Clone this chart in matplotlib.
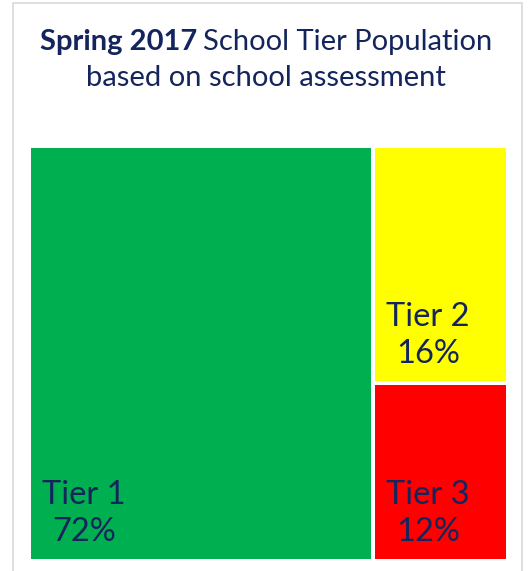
import matplotlib.pyplot as plt
from matplotlib.patches import Rectangle

# data
tiers = ["Tier 1", "Tier 2", "Tier 3"]
shares = [72, 16, 12]
colors = ["#00B050", "#FFFF00", "#FF0000"]

text_color = "#14245C"
font = "Lato"
title_size = 21

fig = plt.figure(figsize=(5.28, 5.71), dpi=100)
ax = fig.add_axes([0, 0, 1, 1])
ax.set_xlim(0, 528)
ax.set_ylim(571, 0)
ax.axis("off")

# light frame around the chart
ax.add_patch(Rectangle((13, 3), 509, 600, facecolor="white",
                       edgecolor="#D9D9D9", linewidth=1.2))

# title: bold part + normal part on one line, centered together
t1 = ax.text(0, 50, "Spring 2017", fontsize=title_size, fontweight="bold",
             color=text_color, family=font, va="baseline")
t2 = ax.text(0, 50, "School Tier Population", fontsize=title_size,
             color=text_color, family=font, va="baseline")
fig.canvas.draw()
w1 = t1.get_window_extent().width
w2 = t2.get_window_extent().width
space = 6
start = 266 - (w1 + space + w2) / 2
t1.set_x(start)
t2.set_x(start + w1 + space)
ax.text(266, 86, "based on school assessment", fontsize=title_size,
        color=text_color, family=font, va="baseline", ha="center")

# simple treemap layout: biggest tile on the left, the rest stacked on the right
x0, y0, x1, y1 = 31, 148, 506, 559
gap = 4
total = sum(shares)
W = x1 - x0
H = y1 - y0

w_first = W * shares[0] / total
tiles = [(x0, y0, w_first - gap / 2, H)]
rest = sum(shares[1:])
cy = y0
for s in shares[1:]:
    h = H * s / rest
    tiles.append((x0 + w_first + gap / 2, cy, W - w_first - gap / 2, h - gap / 2))
    cy += h + gap / 2

# last tile ends at the bottom edge
lx, ly, lw, lh = tiles[-1]
tiles[-1] = (lx, ly, lw, y1 - ly)

for (x, y, w, h), name, s, c in zip(tiles, tiers, shares, colors):
    ax.add_patch(Rectangle((x, y), w, h, facecolor=c, edgecolor="none"))
    ax.text(x + 11, y + h - 18, f"{name}\n{s}%", fontsize=23.5,
            color=text_color, family=font, ha="left", va="baseline",
            multialignment="center", linespacing=1.3)

fig.savefig("out.png", dpi=100)
